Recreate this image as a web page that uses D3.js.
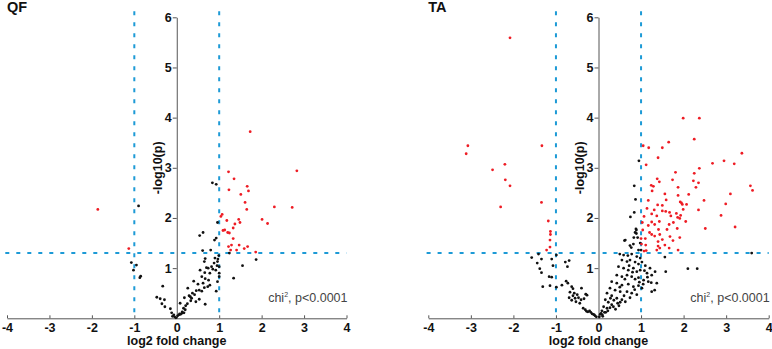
<!DOCTYPE html>
<html>
<head>
<meta charset="utf-8">
<script src="https://cdn.jsdelivr.net/npm/d3@7"></script>
<style>
  html, body { margin: 0; padding: 0; background: #fff; }
  svg { display: block; font-family: "Liberation Sans", Arial, sans-serif; }
</style>
</head>
<body>
<svg id="chart" width="772" height="349"></svg>
<script>
// ---------- data ----------
const panelTitles = ["QF", "TA"];
const xTicks = [-4, -3, -2, -1, 0, 1, 2, 3, 4];
const yTicks = [1, 2, 3, 4, 5, 6];
const fcCutoffs = [-1, 1];
const pCutoff = 1.3;            // -log10(0.05)
const statLabel = "chi";
const statSup = "2";
const statRest = ", p<0.0001";

// QF: significant (red) points [log2FC, -log10 p]
const qfSig = [
  [-1.86,2.17],[-1.13,1.39],[1.73,3.72],[2.83,2.94],[1.22,2.92],[1.35,2.78],[1.23,2.56],
  [1.66,2.63],[1.69,2.54],[1.51,2.47],[1.61,2.31],[1.65,2.17],[2.30,2.22],[2.72,2.21],
  [1.07,2.07],[1.04,2.03],[1.18,1.95],[1.46,1.97],[1.49,1.91],[1.37,1.88],[2.01,1.97],
  [2.14,1.89],[1.33,1.80],[1.09,1.75],[1.13,1.76],[1.20,1.71],[1.24,1.70],[1.33,1.59],
  [1.22,1.43],[1.29,1.46],[1.27,1.36],[1.47,1.46],[1.41,1.36],[1.59,1.39],[1.67,1.43],
  [1.86,1.32]
];
// QF: non-significant (black) points
const qfNs = [
  [-0.90,2.24],[-1.07,1.11],[-0.95,1.06],[-1.02,0.96],[-0.85,0.84],[-0.87,0.81],
  [-0.33,0.64],[-0.47,0.42],[-0.39,0.39],[-0.29,0.37],[-0.35,0.29],[-0.28,0.23],[-0.15,0.19],
  [-0.12,0.11],[-0.07,0.07],[-0.05,0.03],[0.02,0.05],[0.05,0.07],[0.09,0.08],[-0.02,0.01],
  [0.12,0.10],[-0.10,0.04],
  [0.84,2.70],[0.93,2.67],[0.54,1.65],[0.62,1.71],[0.96,1.91],[0.93,1.60],[0.89,1.56],
  [0.61,1.35],[0.80,1.36],[1.24,1.30],[1.87,1.17],[1.55,1.05],[1.34,0.80],
  [0.67,1.19],[0.65,1.13],[0.97,1.18],[0.96,1.13],[0.88,1.10],[0.82,1.03],[0.70,1.01],
  [0.74,1.00],[0.92,0.96],[1.00,1.03],[0.55,0.96],[0.66,0.91],[0.78,0.90],[0.59,0.83],
  [1.00,0.83],[0.67,0.79],[0.75,0.76],[0.96,0.73],[0.40,0.74],[0.50,0.68],[0.62,0.70],
  [0.78,0.66],[0.73,0.63],[0.65,0.61],[0.53,0.56],[0.46,0.55],[0.59,0.54],[0.93,0.54],
  [0.37,0.50],[0.42,0.47],[0.35,0.40],[0.29,0.45],[0.33,0.35],[0.53,0.38],[0.45,0.33],
  [0.67,0.28],[0.21,0.25],[0.25,0.29],[0.16,0.20],[0.20,0.17],[0.13,0.13],[0.17,0.11],
  [0.07,0.09],[0.26,0.60],[0.32,0.43],[0.18,0.41],[0.08,0.30],[0.99,1.25],[0.90,1.20],
  [1.00,0.90],[0.95,1.05],[0.85,0.98]
];

// TA: significant (red) points
const taSig = [
  [-2.08,5.59],[-3.07,3.44],[-3.11,3.28],[-2.20,3.07],[-2.49,2.96],[-2.19,2.76],[-2.08,2.64],
  [-2.30,2.22],[-1.33,3.44],[-1.34,2.31],[-1.18,1.94],[-1.13,1.73],[-1.13,1.67],[-1.14,1.56],
  [-1.14,1.42],[-1.22,1.36],
  [1.99,3.99],[2.37,3.99],[2.25,3.57],[1.65,3.51],[1.05,3.44],[1.18,3.40],[1.50,3.40],
  [3.37,3.29],[1.12,3.06],[1.40,3.20],[2.68,3.09],[2.95,3.14],[3.19,3.08],[2.37,2.99],
  [1.81,2.91],[2.25,2.89],[1.38,2.78],[1.43,2.72],[1.74,2.76],[2.23,2.74],[2.35,2.70],
  [1.24,2.65],[1.29,2.63],[1.87,2.61],[2.29,2.61],[1.26,2.54],[3.57,2.64],[3.62,2.55],
  [2.12,2.47],[1.56,2.48],[3.10,2.48],[1.87,2.45],[2.48,2.35],[1.17,2.35],[1.59,2.36],
  [1.92,2.32],[1.95,2.30],[2.99,2.28],[1.97,2.27],[2.07,2.27],[1.39,2.26],[1.50,2.25],
  [1.14,2.19],[2.35,2.16],[1.31,2.16],[1.50,2.14],[1.58,2.13],[1.99,2.17],[1.25,2.08],
  [1.67,2.11],[1.83,2.09],[1.93,2.05],[1.86,2.01],[2.88,2.05],[1.91,1.99],[2.05,1.93],
  [1.07,2.03],[1.37,2.04],[1.70,2.04],[1.03,1.91],[1.25,1.92],[1.43,1.93],[1.17,1.85],
  [1.32,1.87],[1.66,1.87],[1.76,1.91],[3.21,1.82],[2.51,1.79],[1.41,1.77],[1.61,1.77],
  [1.85,1.79],[1.20,1.71],[1.25,1.67],[1.04,1.76],[1.44,1.67],[1.32,1.64],[1.68,1.63],
  [1.91,1.61],[1.00,1.59],[1.10,1.59],[1.50,1.57],[1.40,1.53],[1.75,1.55],[1.56,1.46],
  [1.40,1.44],[1.44,1.40],[1.01,1.48],[1.11,1.46],[1.66,1.40],[1.87,1.36],[1.37,1.36],
  [1.07,1.34],[1.12,1.35]
];
// TA: non-significant (black) points
const taNs = [
  [-1.41,1.28],[-1.57,1.21],[-1.34,1.18],[-1.44,1.10],[-1.38,0.99],[-1.34,0.91],[-1.31,0.63],
  [-1.14,0.65],[-1.16,0.83],[-1.10,0.82],[-1.10,1.18],[-1.07,1.05],[-0.99,1.26],[-0.99,0.62],
  [-0.69,1.15],[-0.78,1.12],[-0.73,1.03],[-0.86,0.66],[-0.76,0.74],[-0.72,0.70],[-0.63,0.63],
  [-0.60,0.59],[-0.67,0.52],[-0.57,0.50],[-0.50,0.47],[-0.40,0.60],[-0.30,0.48],[-0.27,0.46],
  [-0.34,0.39],[-0.47,0.41],[-0.41,0.37],[-0.53,0.33],[-0.69,0.41],[-0.63,0.36],[-0.44,0.30],
  [-0.31,0.17],[-0.25,0.13],[-0.21,0.15],[-0.15,0.09],[-0.10,0.07],[-0.05,0.03],[-0.36,0.20],
  [-0.28,0.14],[-0.18,0.12],[-0.60,0.45],[-0.55,0.40],[-0.08,0.05],[-0.12,0.08],
  [0.95,3.14],[0.84,2.64],[0.87,2.37],[0.84,2.11],[0.75,2.02],[0.89,1.76],[0.89,1.69],
  [0.92,1.61],[0.98,1.50],[0.61,1.55],[0.77,1.41],[0.50,1.28],[3.60,1.30],[2.10,0.99],
  [2.32,0.99],[1.58,0.93],[1.56,1.22],[1.24,0.71],[1.32,0.56],
  [0.88,1.78],[0.86,1.71],[0.83,1.61],[0.63,1.56],[0.74,1.45],[0.82,1.48],[0.94,1.36],
  [1.00,1.36],[0.59,1.26],[0.69,1.25],[0.78,1.28],[0.90,1.23],[0.98,1.20],[0.55,1.16],
  [0.67,1.13],[0.74,1.16],[0.86,1.12],[0.94,1.08],[1.02,1.12],[1.10,1.05],[1.21,1.00],
  [0.47,1.03],[0.59,1.00],[0.70,0.96],[0.82,1.00],[0.90,0.93],[0.98,0.96],[1.14,0.90],
  [1.25,0.86],[1.33,0.93],[0.43,0.86],[0.55,0.83],[0.67,0.86],[0.78,0.83],[0.86,0.78],
  [0.94,0.81],[1.06,0.76],[1.17,0.73],[1.37,0.70],[0.31,0.73],[0.43,0.70],[0.55,0.66],
  [0.70,0.68],[0.82,0.63],[0.94,0.65],[1.02,0.60],[1.25,0.53],[0.27,0.60],[0.39,0.56],
  [0.51,0.53],[0.67,0.53],[0.78,0.50],[0.90,0.47],[0.20,0.50],[0.31,0.45],[0.43,0.40],
  [0.55,0.37],[0.63,0.33],[0.74,0.41],[0.16,0.37],[0.23,0.32],[0.31,0.27],[0.45,0.30],
  [0.51,0.32],[0.12,0.23],[0.20,0.20],[0.27,0.21],[0.35,0.23],[0.08,0.15],[0.14,0.12],
  [0.04,0.08],[0.09,0.07],[0.17,0.12],[0.02,0.03],
  [0.72,1.05],[0.80,0.92],[0.62,0.78],[0.50,0.62],[0.36,0.36],[0.28,0.40],[0.06,0.10],
  [1.08,0.95],[1.15,0.82],[0.96,0.72],[1.05,0.68],[0.85,0.57],[0.60,0.45],[0.40,0.18],
  [0.48,0.25],[0.22,0.15],[0.10,0.04]
];

// ---------- drawing ----------
const svg = d3.select("#chart");
const blue = "#1d9ad6";
const red = "#ee1c24";
const axisCol = "#555";
const FONT = '"Liberation Sans", Arial, sans-serif';

const panels = [
  { title: panelTitles[0], sig: qfSig, ns: qfNs, x0: 7, x1: 346.5 },
  { title: panelTitles[1], sig: taSig, ns: taNs, x0: 428.3, x1: 768.7 }
];
const yBottom = 318.3, yTop = 17.3;

function labelStyle(sel, bold) {
  sel.style("font-family", FONT).style("font-size", "12.5px")
     .style("font-weight", bold ? "bold" : "normal").style("fill", "#111");
}

panels.forEach(p => {
  const x = d3.scaleLinear().domain([-4, 4]).range([p.x0, p.x1]);
  const y = d3.scaleLinear().domain([0, 6]).range([yBottom, yTop]);
  const g = svg.append("g");

  // title
  g.append("text").attr("x", x(-4)).attr("y", 12)
    .style("font-family", FONT).style("font-size", "14.5px").style("font-weight", "bold")
    .style("fill", "#111").text(p.title);

  // threshold lines
  const th = g.append("g").attr("stroke", blue).attr("stroke-width", 2)
    .attr("stroke-dasharray", "4,7").attr("fill", "none");
  fcCutoffs.forEach(c => {
    th.append("line").attr("x1", x(c)).attr("x2", x(c))
      .attr("y1", y(6.12)).attr("y2", y(0));
  });
  th.append("line").attr("x1", x(-4.04)).attr("x2", x(4))
    .attr("y1", y(pCutoff)).attr("y2", y(pCutoff));

  // x axis
  const xa = g.append("g").attr("transform", `translate(0,${y(0)})`)
    .call(d3.axisBottom(x).tickValues(xTicks)
      .tickFormat(d => d < 0 ? "-" + Math.abs(d) : String(d))
      .tickSizeInner(-3).tickSizeOuter(0).tickPadding(5));
  xa.select(".domain").attr("stroke", axisCol);
  xa.selectAll(".tick line").attr("stroke", axisCol);
  xa.selectAll(".tick text").call(labelStyle, true);

  // y axis
  const ya = g.append("g").attr("transform", `translate(${x(0)},0)`)
    .call(d3.axisLeft(y).tickValues(yTicks).tickFormat(d3.format("d"))
      .tickSizeInner(4).tickSizeOuter(0).tickPadding(1));
  ya.select(".domain").attr("stroke", axisCol);
  ya.selectAll(".tick line").attr("stroke", axisCol);
  ya.selectAll(".tick text").call(labelStyle, true);

  // axis titles
  g.append("text").attr("x", x(0)).attr("y", 345)
    .attr("text-anchor", "middle").call(labelStyle, true).text("log2 fold change");
  g.append("text")
    .attr("transform", `translate(${x(0) - 14.5},${y(3)}) rotate(-90)`)
    .attr("text-anchor", "middle").call(labelStyle, true).text("-log10(p)");

  // points
  g.append("g").selectAll("circle").data(p.ns).join("circle")
    .attr("cx", d => x(d[0])).attr("cy", d => y(d[1])).attr("r", 1.4).attr("fill", "#111");
  g.append("g").selectAll("circle").data(p.sig).join("circle")
    .attr("cx", d => x(d[0])).attr("cy", d => y(d[1])).attr("r", 1.4).attr("fill", red);

  // stat text
  const t = g.append("text").attr("x", x(4) + 1).attr("y", 302)
    .attr("text-anchor", "end")
    .style("font-family", FONT).style("font-size", "12.5px").style("fill", "#444");
  t.append("tspan").text(statLabel);
  t.append("tspan").style("font-size", "7px").attr("dy", -5).text(statSup);
  t.append("tspan").attr("dy", 5).text(statRest);
});
</script>
</body>
</html>
